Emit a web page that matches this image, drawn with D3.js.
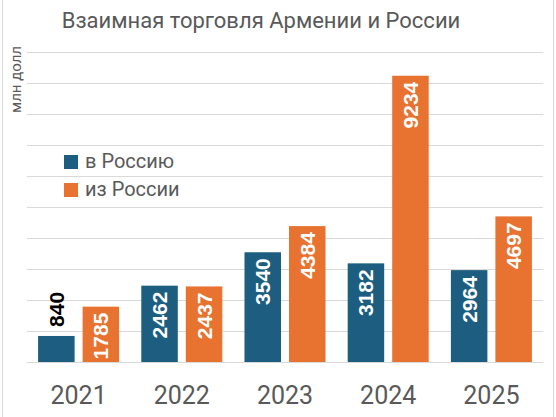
<!DOCTYPE html>
<html>
<head>
<meta charset="utf-8">
<script src="https://cdn.jsdelivr.net/npm/d3@7"></script>
<style>
  html, body { margin: 0; padding: 0; background: #fff; }
  svg { display: block; }
</style>
</head>
<body>
<svg id="chart" width="556" height="417"></svg>
<script>
const years = ["2021", "2022", "2023", "2024", "2025"];
const seriesNames = ["в Россию", "из России"];
const toRussia = [840, 2462, 3540, 3182, 2964];
const fromRussia = [1785, 2437, 4384, 9234, 4697];
const yTicks = [0, 1000, 2000, 3000, 4000, 5000, 6000, 7000, 8000, 9000, 10000];
const colors = ["#1c5d80", "#e8722f"];

const svg = d3.select("#chart");
const W = 556, H = 417;
const mLeft = 27, mRight = 543, mTop = 52, mBottom = 362;

// frame side lines
svg.append("line").attr("x1", 2.5).attr("x2", 2.5).attr("y1", 0).attr("y2", H).attr("stroke", "#d9d9d9");
svg.append("line").attr("x1", 553.5).attr("x2", 553.5).attr("y1", 0).attr("y2", H).attr("stroke", "#d9d9d9");

const x0 = d3.scaleBand().domain(years).range([mLeft, mRight]).paddingInner(0.215).paddingOuter(0.1075);
const x1 = d3.scaleBand().domain([0, 1]).range([0, x0.bandwidth()]).paddingInner(0.18).paddingOuter(0);
const y = d3.scaleLinear().domain([0, 10000]).range([mBottom, mTop]);

// gridlines
const grid = svg.append("g").attr("transform", `translate(${mLeft},0)`)
  .call(d3.axisLeft(y).tickValues(yTicks).tickSize(-(mRight - mLeft)).tickFormat(""));
grid.select(".domain").remove();
grid.selectAll(".tick line").attr("stroke", "#d9d9d9").attr("stroke-width", 1);

// title
svg.append("text").attr("x", 261).attr("y", 28).attr("text-anchor", "middle")
  .attr("font-family", "Roboto, 'Noto Sans', sans-serif").attr("font-size", 22)
  .attr("fill", "#595959").text("Взаимная торговля Армении и России");

// y label
svg.append("text").attr("transform", "translate(21,113) rotate(-90)")
  .attr("font-family", "Roboto, 'Noto Sans', sans-serif").attr("font-size", 15)
  .attr("fill", "#595959").text("млн долл");

const data = years.map((yr, i) => ({ year: yr, vals: [toRussia[i], fromRussia[i]] }));

const groups = svg.append("g").selectAll("g").data(data).join("g")
  .attr("transform", d => `translate(${x0(d.year)},0)`);

groups.selectAll("rect").data(d => d.vals.map((v, k) => ({ v, k }))).join("rect")
  .attr("x", d => x1(d.k)).attr("width", x1.bandwidth())
  .attr("y", d => y(d.v)).attr("height", d => y(0) - y(d.v))
  .attr("fill", d => colors[d.k]);

const isInside = d => (y(0) - y(d.v)) > 40;

groups.selectAll("text.val").data(d => d.vals.map((v, k) => ({ v, k }))).join("text")
  .attr("class", "val")
  .attr("transform", d => {
    const cx = x1(d.k) + x1.bandwidth() / 2 + 7.5;
    const yy = isInside(d) ? y(d.v) + 6 : y(d.v) - 9;
    return `translate(${cx},${yy}) rotate(-90)`;
  })
  .attr("text-anchor", d => isInside(d) ? "end" : "start")
  .attr("font-family", "'Liberation Sans', Arial, sans-serif").attr("font-weight", "bold")
  .attr("font-size", 21)
  .attr("fill", d => isInside(d) ? "#ffffff" : "#000000")
  .text(d => d.v);

// year labels
svg.append("g").selectAll("text").data(years).join("text")
  .attr("x", d => x0(d) + x0.bandwidth() / 2).attr("y", 404)
  .attr("text-anchor", "middle")
  .attr("font-family", "Roboto, 'Noto Sans', sans-serif").attr("font-size", 25)
  .attr("fill", "#595959").text(d => d);

// legend
const leg = svg.append("g").selectAll("g").data(seriesNames).join("g")
  .attr("transform", (d, i) => `translate(64,${155 + i * 28})`);
leg.append("rect").attr("width", 14).attr("height", 14).attr("fill", (d, i) => colors[i]);
leg.append("text").attr("x", 21).attr("y", 13)
  .attr("font-family", "Roboto, 'Noto Sans', sans-serif").attr("font-size", 20)
  .attr("fill", "#595959").text(d => d);
</script>
</body>
</html>
